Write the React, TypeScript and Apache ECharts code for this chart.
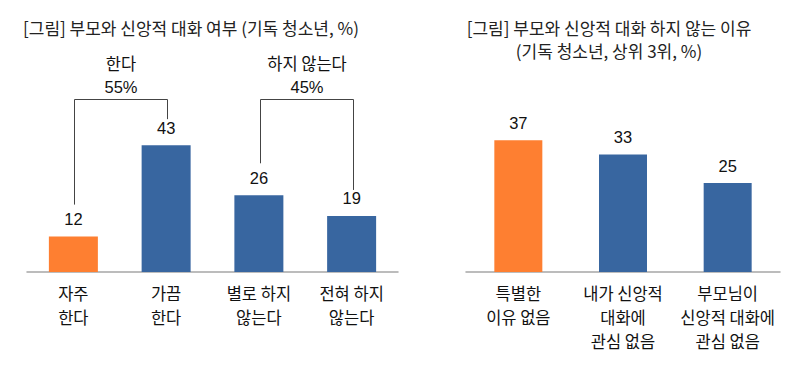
import React, { useEffect, useRef } from 'react';
import * as echarts from 'echarts';

const leftTitle = '[그림] 부모와 신앙적 대화 여부 (기독 청소년, %)';
const rightTitleLines = ['[그림] 부모와 신앙적 대화 하지 않는 이유', '(기독 청소년, 상위 3위, %)'];

const leftCategories = ['자주\n한다', '가끔\n한다', '별로 하지\n않는다', '전혀 하지\n않는다'];
const leftValues = [12, 43, 26, 19];

const rightCategories = ['특별한\n이유 없음', '내가 신앙적\n대화에\n관심 없음', '부모님이\n신앙적 대화에\n관심 없음'];
const rightValues = [37, 33, 25];

const bracketLabels = ['한다', '하지 않는다'];
const bracketPercents = ['55%', '45%'];
const bracketFrom = [0, 2];
const bracketTo = [1, 3];

const ORANGE = '#FE7F31';
const BLUE = '#3866A0';
const KR = '"Noto Sans CJK KR", "Noto Sans", sans-serif';
const NUM = '"Liberation Sans", Arial, sans-serif';

export default function App() {
  const ref = useRef<HTMLDivElement>(null);
  useEffect(() => {
    const chart = echarts.init(ref.current!, null, { renderer: 'svg' });
    const catAxis = (gridIndex: number, data: string[]) => ({
      type: 'category',
      gridIndex,
      data,
      axisLine: { show: true, lineStyle: { color: '#A6A6A6', width: 1.5 } },
      axisTick: { show: false },
      axisLabel: {
        interval: 0,
        margin: 9,
        color: '#111',
        fontSize: 16.5,
        lineHeight: 24,
        fontFamily: KR,
      },
    });
    const valAxis = (gridIndex: number, max: number) => ({
      type: 'value',
      gridIndex,
      min: 0,
      max,
      show: false,
      splitLine: { show: false },
    });
    const label = {
      show: true,
      position: 'top',
      distance: 9,
      fontSize: 16.5,
      fontFamily: NUM,
      color: '#111',
    };
    chart.setOption({
      animation: false,
      backgroundColor: '#ffffff',
      grid: [
        { left: 27, width: 371, top: 95, height: 177 },
        { left: 466, width: 314, top: 129.6, height: 142.4 },
      ],
      xAxis: [catAxis(0, leftCategories), catAxis(1, rightCategories)],
      yAxis: [valAxis(0, 60), valAxis(1, 40)],
      series: [
        {
          type: 'bar',
          xAxisIndex: 0,
          yAxisIndex: 0,
          barWidth: 49,
          data: leftValues.map((v, i) => ({ value: v, itemStyle: { color: i === 0 ? ORANGE : BLUE } })),
          label,
        },
        {
          type: 'bar',
          xAxisIndex: 1,
          yAxisIndex: 1,
          barWidth: 48,
          data: rightValues.map((v, i) => ({ value: v, itemStyle: { color: i === 0 ? ORANGE : BLUE } })),
          label,
        },
      ],
    });

    const graphics: any[] = [];
    graphics.push({
      type: 'text',
      x: 23,
      y: 27,
      style: {
        text: leftTitle,
        fontSize: 17,
        fontFamily: KR,
        fill: '#222',
        textAlign: 'left',
        textVerticalAlign: 'middle',
      },
    });
    graphics.push({
      type: 'text',
      x: 609,
      y: 38.5,
      style: {
        text: rightTitleLines.join('\n'),
        fontSize: 17,
        lineHeight: 23,
        fontFamily: KR,
        fill: '#222',
        textAlign: 'center',
        textVerticalAlign: 'middle',
      },
    });

    const maxTop = Math.min(
      ...leftValues.map((v, i) => chart.convertToPixel({ xAxisIndex: 0, yAxisIndex: 0 }, [i, v])[1])
    );
    const bracketY = maxTop - 46;
    bracketLabels.forEach((name, k) => {
      const a = bracketFrom[k];
      const b = bracketTo[k];
      const pa = chart.convertToPixel({ xAxisIndex: 0, yAxisIndex: 0 }, [a, leftValues[a]]);
      const pb = chart.convertToPixel({ xAxisIndex: 0, yAxisIndex: 0 }, [b, leftValues[b]]);
      const xa = Math.round(pa[0] + 1) + 0.5;
      const xb = Math.round(pb[0] + 1) + 0.5;
      const y = Math.round(bracketY) + 0.5;
      graphics.push({
        type: 'polyline',
        shape: {
          points: [
            [xa, pa[1] - 32],
            [xa, y],
            [xb, y],
            [xb, pb[1] - 26],
          ],
        },
        style: { stroke: '#444', lineWidth: 1, fill: null },
      });
      const cx = (xa + xb) / 2;
      graphics.push({
        type: 'text',
        x: cx,
        y: y - 37,
        style: {
          text: name,
          fontSize: 16.5,
          fontFamily: KR,
          fill: '#111',
          textAlign: 'center',
          textVerticalAlign: 'middle',
        },
      });
      graphics.push({
        type: 'text',
        x: cx,
        y: y - 13,
        style: {
          text: bracketPercents[k],
          fontSize: 16.5,
          fontFamily: NUM,
          fill: '#111',
          textAlign: 'center',
          textVerticalAlign: 'middle',
        },
      });
    });
    chart.setOption({ graphic: graphics });
    return () => chart.dispose();
  }, []);
  return (
    <div
      ref={ref}
      style={{ position: 'fixed', left: 0, top: 0, width: 807, height: 392, background: '#fff' }}
    />
  );
}
